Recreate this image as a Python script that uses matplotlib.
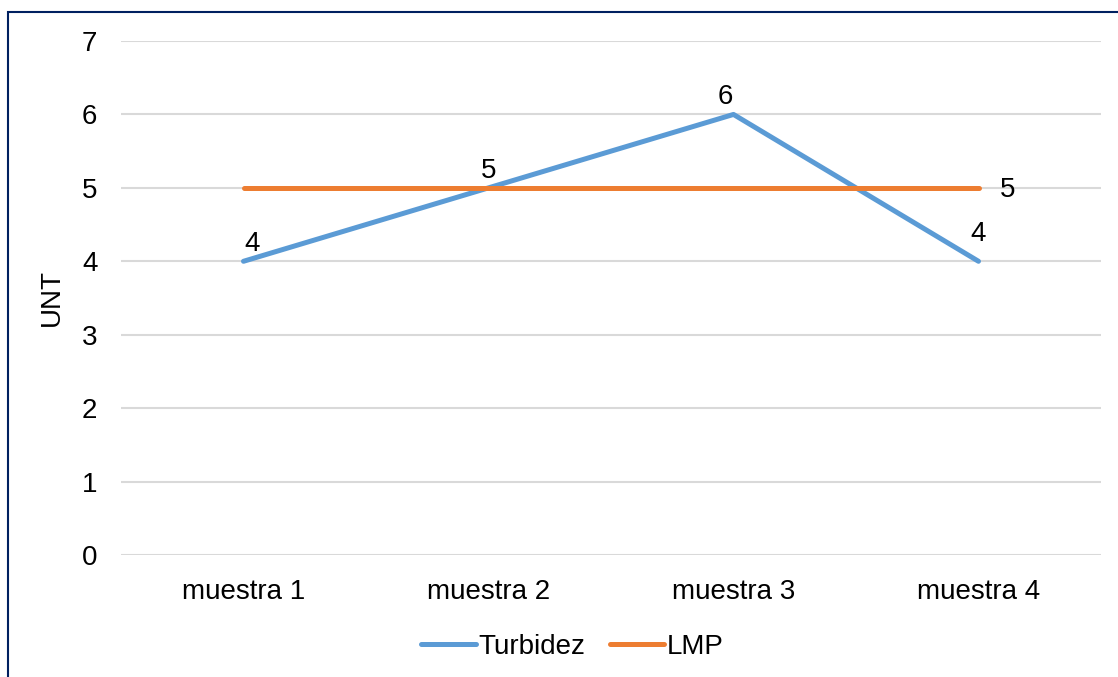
import matplotlib
matplotlib.use("Agg")
import matplotlib.pyplot as plt
from matplotlib.patches import Rectangle

categories = ["muestra 1", "muestra 2", "muestra 3", "muestra 4"]
turbidez = [4, 5, 6, 4]
lmp = [5, 5, 5, 5]
yticks = [0, 1, 2, 3, 4, 5, 6, 7]

plt.rcParams['font.family'] = ['Liberation Sans', 'DejaVu Sans']

W, H = 1118, 677
fig = plt.figure(figsize=(W / 100, H / 100), dpi=100)
ax = fig.add_axes([121 / W, 1 - 555 / H, (1101 - 121) / W, (555 - 41) / H])

x = list(range(len(categories)))
blue = "#5B9BD5"
orange = "#ED7D31"
ax.plot(x, turbidez, color=blue, lw=3.6, solid_capstyle="round", label="Turbidez", zorder=3)
ax.plot(x, lmp, color=orange, lw=3.6, solid_capstyle="round", label="LMP", zorder=3)

fs = 20
offsets = [(6, 3), (0, 3), (-6, 3), (0, 10)]
for xi, v, (dx, dy) in zip(x, turbidez, offsets):
    ax.annotate(str(v), (xi, v), xytext=(dx, dy), textcoords="offset points",
                ha="center", va="bottom", fontsize=fs)
ax.annotate(str(lmp[-1]), (x[-1], lmp[-1]), xytext=(21, -1.5), textcoords="offset points",
            ha="center", va="center", fontsize=fs)

ax.set_xlim(-0.5, len(categories) - 0.5)
ax.set_ylim(0, 7)
ax.set_yticks(yticks)
ax.set_xticks(x)
ax.set_xticklabels(categories)
ax.grid(axis="y", color="#D9D9D9", lw=1.5)
ax.set_axisbelow(True)
for s in ax.spines.values():
    s.set_visible(False)
ax.tick_params(axis="both", length=0, labelsize=fs)
ax.tick_params(axis="y", pad=17)
ax.tick_params(axis="x", pad=17)
ax.set_ylabel("UNT", fontsize=fs, labelpad=12)

leg = ax.legend(loc="upper center", bbox_to_anchor=(0.461, -0.105), ncol=2, frameon=False,
                fontsize=fs, handlelength=1.95, handletextpad=0.1, columnspacing=0.9)

fig.patches.append(Rectangle((8 / W, -0.1), 1.2, 1.1 - 12 / H, transform=fig.transFigure,
                             fill=False, edgecolor="#002060", lw=1.5))

fig.savefig("out.png", dpi=100)
